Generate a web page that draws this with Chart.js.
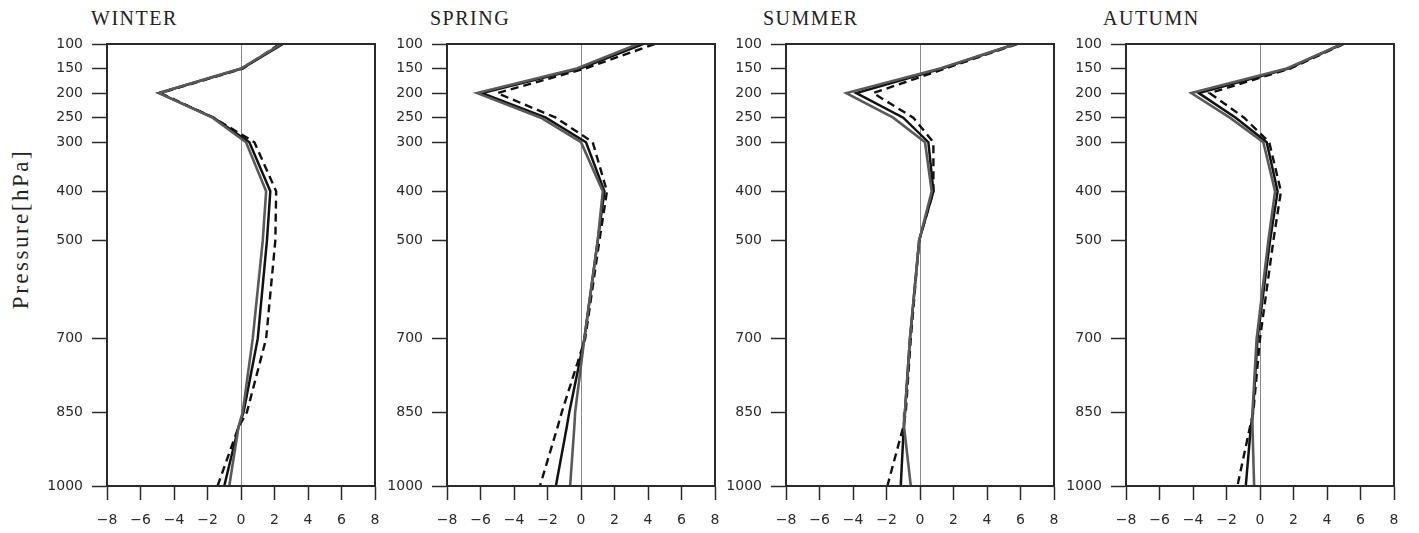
<!DOCTYPE html>
<html><head><meta charset="utf-8">
<script src="https://cdn.jsdelivr.net/npm/chart.js@4.4.0/dist/chart.umd.min.js"></script>
<style>
html,body{margin:0;padding:0;background:#fff;width:1419px;height:533px;overflow:hidden;position:relative}
canvas{position:absolute;top:0}
.ttl{position:absolute;top:6px;font-family:"Liberation Serif",serif;font-size:20px;letter-spacing:1.5px;color:#222;line-height:24px;white-space:nowrap}
.ytitle{position:absolute;left:21px;top:229px;transform:translate(-50%,-50%) rotate(-90deg);font-family:"Liberation Serif",serif;font-size:23px;letter-spacing:2.5px;color:#222;white-space:nowrap;line-height:26px}
</style></head><body>
<div class="ttl" style="left:91px">WINTER</div>
<div class="ttl" style="left:430px">SPRING</div>
<div class="ttl" style="left:763px">SUMMER</div>
<div class="ttl" style="left:1103px">AUTUMN</div>
<div class="ytitle">Pressure[hPa]</div>
<canvas id="c0" width="385" height="533" style="left:0px"></canvas>
<canvas id="c1" width="385" height="533" style="left:340px"></canvas>
<canvas id="c2" width="385" height="533" style="left:679px"></canvas>
<canvas id="c3" width="385" height="533" style="left:1019px"></canvas>
<script>
// Pressure levels (hPa)
const levels = [100, 150, 200, 250, 300, 400, 500, 700, 850, 880, 1000];
// Tick labels
const pressureTicks = [100, 150, 200, 250, 300, 400, 500, 700, 850, 1000];
const xTicks = [-8, -6, -4, -2, 0, 2, 4, 6, 8];
const seasons = ['WINTER', 'SPRING', 'SUMMER', 'AUTUMN'];

// Series values (x) at each level
const winterHollow = [2.4, 0.0, -4.9, -1.7, 0.3, 1.5, 1.3, 0.7, 0.1, -0.15, -0.7];
const winterThick  = [2.5, 0.05, -4.9, -1.65, 0.5, 1.75, 1.55, 1.0, 0.15, -0.15, -1.0];
const winterDashed = [2.3, 0.1, -4.8, -1.65, 0.8, 2.1, 2.05, 1.5, 0.35, -0.15, -1.4];

const springHollow = [3.4, -0.25, -6.2, -2.4, 0.0, 1.3, 1.0, 0.2, -0.35, -0.4, -0.65];
const springThick  = [3.7, -0.05, -5.9, -2.1, 0.3, 1.4, 1.0, 0.2, -0.7, -0.85, -1.5];
const springDashed = [4.4, 0.25, -5.0, -1.5, 0.7, 1.55, 1.1, 0.25, -1.15, -1.4, -2.45];

const summerHollow = [5.7, 1.2, -4.4, -1.6, 0.3, 0.7, -0.05, -0.6, -0.9, -0.95, -0.55];
const summerThick  = [5.7, 1.3, -3.8, -1.0, 0.5, 0.8, -0.05, -0.6, -0.9, -0.97, -1.15];
const summerDashed = [5.8, 1.5, -2.8, -0.4, 0.8, 0.8, -0.05, -0.55, -0.85, -1.0, -1.95];

const autumnHollow = [4.9, 1.6, -4.1, -1.8, 0.2, 0.9, 0.5, -0.2, -0.45, -0.45, -0.35];
const autumnThick  = [4.9, 1.7, -3.65, -1.45, 0.4, 1.05, 0.6, -0.15, -0.42, -0.55, -0.85];
const autumnDashed = [5.0, 1.8, -3.0, -0.95, 0.55, 1.25, 0.8, 0.0, -0.4, -0.6, -1.35];

const panels = [
  [winterHollow, winterThick, winterDashed],
  [springHollow, springThick, springDashed],
  [summerHollow, summerThick, summerDashed],
  [autumnHollow, autumnThick, autumnDashed]
];

const pts = arr => arr.map((v, i) => ({x: v, y: levels[i]}));
const axisColor = '#2a2a2a';
const tickFont = {family: 'DejaVu Sans', size: 14};

const framePlugin = {
  id: 'frame',
  afterDraw(chart) {
    const {ctx, chartArea: a} = chart;
    ctx.save();
    ctx.strokeStyle = axisColor;
    ctx.lineWidth = 2;
    ctx.strokeRect(a.left, a.top, a.right - a.left, a.bottom - a.top);
    ctx.restore();
  }
};

panels.forEach((p, idx) => {
  const [hollow, thick, dashed] = p;
  new Chart(document.getElementById('c' + idx), {
    type: 'line',
    data: {
      datasets: [
        {label: seasons[idx] + ' A', data: pts(hollow), borderColor: '#5a5a5a', borderWidth: 2.6},
        {label: seasons[idx] + ' A inner', data: pts(hollow), borderColor: '#ffffff', borderWidth: 0.9},
        {label: seasons[idx] + ' B', data: pts(thick), borderColor: '#111111', borderWidth: 2.5},
        {label: seasons[idx] + ' C', data: pts(dashed), borderColor: '#111111', borderWidth: 2.4, borderDash: [8, 5]}
      ]
    },
    options: {
      responsive: false,
      animation: false,
      devicePixelRatio: 1,
      layout: {padding: {top: 44, right: 10, bottom: 0, left: 0}},
      plugins: {legend: {display: false}, tooltip: {enabled: false}, title: {display: false}},
      elements: {point: {radius: 0}, line: {tension: 0, fill: false}},
      scales: {
        x: {
          type: 'linear', min: -8, max: 8,
          afterBuildTicks(s) { s.ticks = xTicks.map(v => ({value: v})); },
          afterFit(s) { s.height = 47; s.paddingLeft = 0; s.paddingRight = 0; },
          ticks: {
            font: tickFont, color: axisColor, padding: 12, maxRotation: 0,
            callback: v => String(v).replace('-', '\u2212')
          },
          grid: {
            color: c => (c.tick && c.tick.value === 0) ? '#8a8a8a' : 'rgba(0,0,0,0)',
            lineWidth: 1, tickColor: axisColor, tickLength: 14, tickWidth: 1.5
          },
          border: {display: true, color: axisColor, width: 2}
        },
        y: {
          type: 'linear', reverse: true, min: 100, max: 1000,
          afterBuildTicks(s) { s.ticks = pressureTicks.map(v => ({value: v})); },
          afterFit(s) { s.width = 107; s.paddingTop = 0; s.paddingBottom = 0; },
          ticks: {font: tickFont, color: axisColor, padding: 9, callback: v => String(v)},
          grid: {color: 'rgba(0,0,0,0)', tickColor: axisColor, tickLength: 15, tickWidth: 1.5},
          border: {display: true, color: axisColor, width: 2}
        }
      }
    },
    plugins: [framePlugin]
  });
});
</script>
</body></html>
